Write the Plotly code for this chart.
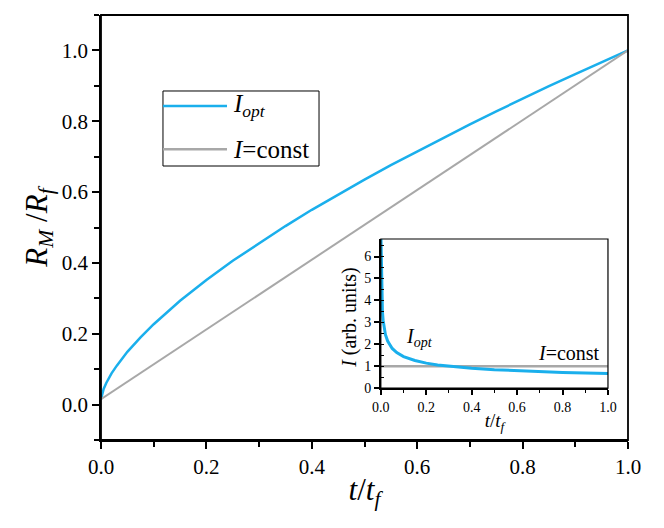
import plotly.graph_objects as go

# ---------------- data ----------------
t_main = [0.0, 0.005, 0.01, 0.02, 0.03, 0.05, 0.075, 0.1, 0.15, 0.2, 0.25, 0.3, 0.35,
          0.4, 0.45, 0.5, 0.55, 0.6, 0.65, 0.7, 0.75, 0.8, 0.85, 0.9, 0.95, 1.0]
r_opt = [0.015, 0.044, 0.061, 0.088, 0.11, 0.149, 0.19, 0.227, 0.293, 0.352, 0.406,
         0.456, 0.504, 0.550, 0.593, 0.635, 0.676, 0.715, 0.754, 0.791, 0.828, 0.864,
         0.899, 0.933, 0.967, 1.0]
t_const = [0.0, 1.0]
r_const = [0.015, 1.0]

t_inset = [0.0, 0.002, 0.004, 0.007, 0.01, 0.015, 0.02, 0.03, 0.04, 0.05, 0.07, 0.1,
           0.15, 0.2, 0.25, 0.3, 0.35, 0.4, 0.5, 0.6, 0.7, 0.8, 0.9, 1.0]
i_opt = [7.2, 5.3, 4.2, 3.5, 3.1, 2.7, 2.45, 2.15, 1.95, 1.81, 1.62, 1.44, 1.26, 1.14,
         1.06, 1.0, 0.95, 0.905, 0.84, 0.79, 0.75, 0.718, 0.69, 0.667]
t_inset_const = [0.0, 1.0]
i_const = [1.0, 1.0]

main_ticks = [0.0, 0.2, 0.4, 0.6, 0.8, 1.0]
main_ticklabels = ["0.0", "0.2", "0.4", "0.6", "0.8", "1.0"]
inset_yticks = [0, 1, 2, 3, 4, 5, 6]

BLUE = "#1AAFEC"
GRAY = "#A8A8A8"
FONT = "Liberation Serif, Times New Roman, serif"

fig = go.Figure()
fig.add_trace(go.Scatter(x=t_main, y=r_opt, mode="lines", line=dict(color=BLUE, width=2.5),
                         xaxis="x", yaxis="y", showlegend=False))
fig.add_trace(go.Scatter(x=t_const, y=r_const, mode="lines", line=dict(color=GRAY, width=2),
                         xaxis="x", yaxis="y", showlegend=False))
fig.add_trace(go.Scatter(x=t_inset_const, y=i_const, mode="lines", line=dict(color=GRAY, width=2.5),
                         xaxis="x2", yaxis="y2", showlegend=False))
fig.add_trace(go.Scatter(x=t_inset, y=i_opt, mode="lines", line=dict(color=BLUE, width=3),
                         xaxis="x2", yaxis="y2", showlegend=False))

ax_common = dict(showgrid=False, zeroline=False, showline=True, linecolor="black",
                 linewidth=1.5, tickcolor="black", tickwidth=1.5, automargin=False)

inset_dom_x = [0.531, 0.962]
inset_dom_y = [0.122, 0.473]

fig.update_layout(
    width=664, height=528,
    margin=dict(l=93, r=44, t=7, b=96),
    paper_bgcolor="white", plot_bgcolor="rgba(0,0,0,0)",
    font=dict(family=FONT, color="black"),
    showlegend=False,
    xaxis=dict(**ax_common, range=[0, 1], tickvals=main_ticks, ticktext=main_ticklabels,
               ticks="outside", ticklen=7,
               minor=dict(dtick=0.1, tick0=0, ticks="outside", ticklen=5, tickcolor="black", tickwidth=1.5),
               tickfont=dict(size=21, family=FONT),
               title=dict(text="<i>t</i>/<i>t</i><sub><i>f</i></sub>", font=dict(size=31, family=FONT), standoff=0),
               anchor="y"),
    yaxis=dict(**ax_common, range=[-0.1, 1.1], tickvals=main_ticks, ticktext=main_ticklabels,
               ticks="outside", ticklen=7,
               minor=dict(dtick=0.1, tick0=0, ticks="outside", ticklen=5, tickcolor="black", tickwidth=1.5),
               tickfont=dict(size=21, family=FONT),
               title=dict(text="<i>R<sub>M</sub></i> /<i>R<sub>f</sub></i>", font=dict(size=31, family=FONT), standoff=5),
               anchor="x"),
    xaxis2=dict(**ax_common, domain=inset_dom_x, range=[0, 1], anchor="y2",
                tickvals=main_ticks, ticktext=main_ticklabels, ticks="outside", ticklen=5,
                minor=dict(dtick=0.1, tick0=0, ticks="outside", ticklen=3, tickcolor="black", tickwidth=1),
                tickfont=dict(size=14, family=FONT),
                title=dict(text="<i>t</i>/<i>t</i><sub><i>f</i></sub>", font=dict(size=19, family=FONT), standoff=0)),
    yaxis2=dict(**ax_common, domain=inset_dom_y, range=[0, 6.8], anchor="x2",
                tickvals=inset_yticks, ticks="outside", ticklen=5,
                minor=dict(dtick=0.5, tick0=0, ticks="inside", ticklen=3, tickcolor="black", tickwidth=1),
                tickfont=dict(size=14, family=FONT)),
)

# frames around main plot and inset
fig.add_shape(type="rect", xref="paper", yref="paper", x0=0, x1=1, y0=0, y1=1,
              line=dict(color="black", width=1.8), layer="above")
fig.add_shape(type="rect", xref="x2 domain", yref="y2 domain", x0=0, x1=1, y0=0, y1=1,
              line=dict(color="black", width=1.2), layer="above")

# manual legend (box, sample lines, labels) in plot-area paper coordinates
fig.add_shape(type="rect", xref="paper", yref="paper", x0=0.1176, x1=0.4137, y0=0.6447, y1=0.8212,
              line=dict(color="black", width=1), fillcolor="white", layer="below")
fig.add_shape(type="line", xref="paper", yref="paper", x0=0.1176, x1=0.2391, y0=0.7859, y1=0.7859,
              line=dict(color=BLUE, width=2.5))
fig.add_shape(type="line", xref="paper", yref="paper", x0=0.1176, x1=0.2391, y0=0.6840, y1=0.6840,
              line=dict(color=GRAY, width=2.5))
fig.add_annotation(xref="paper", yref="paper", x=0.2466, y=0.7859, text="<i>I<sub>opt</sub></i>",
                   showarrow=False, xanchor="left", yanchor="middle", font=dict(size=25, family=FONT))
fig.add_annotation(xref="paper", yref="paper", x=0.2466, y=0.6840, text="<i>I</i>=const",
                   showarrow=False, xanchor="left", yanchor="middle", font=dict(size=25, family=FONT))

# inset labels
fig.add_annotation(xref="x2 domain", yref="y2 domain", x=-0.141, y=0.47, text="<i>I</i> (arb. units)",
                   textangle=-90, showarrow=False, xanchor="center", yanchor="middle",
                   font=dict(size=20, family=FONT))
fig.add_annotation(xref="x2", yref="y2", x=0.1, y=2.3, text="<i>I<sub>opt</sub></i>",
                   showarrow=False, xanchor="left", yanchor="middle", font=dict(size=20, family=FONT))
fig.add_annotation(xref="x2", yref="y2", x=0.975, y=1.6, text="<i>I</i>=const",
                   showarrow=False, xanchor="right", yanchor="middle", font=dict(size=20, family=FONT))

fig.write_html("out.html")
